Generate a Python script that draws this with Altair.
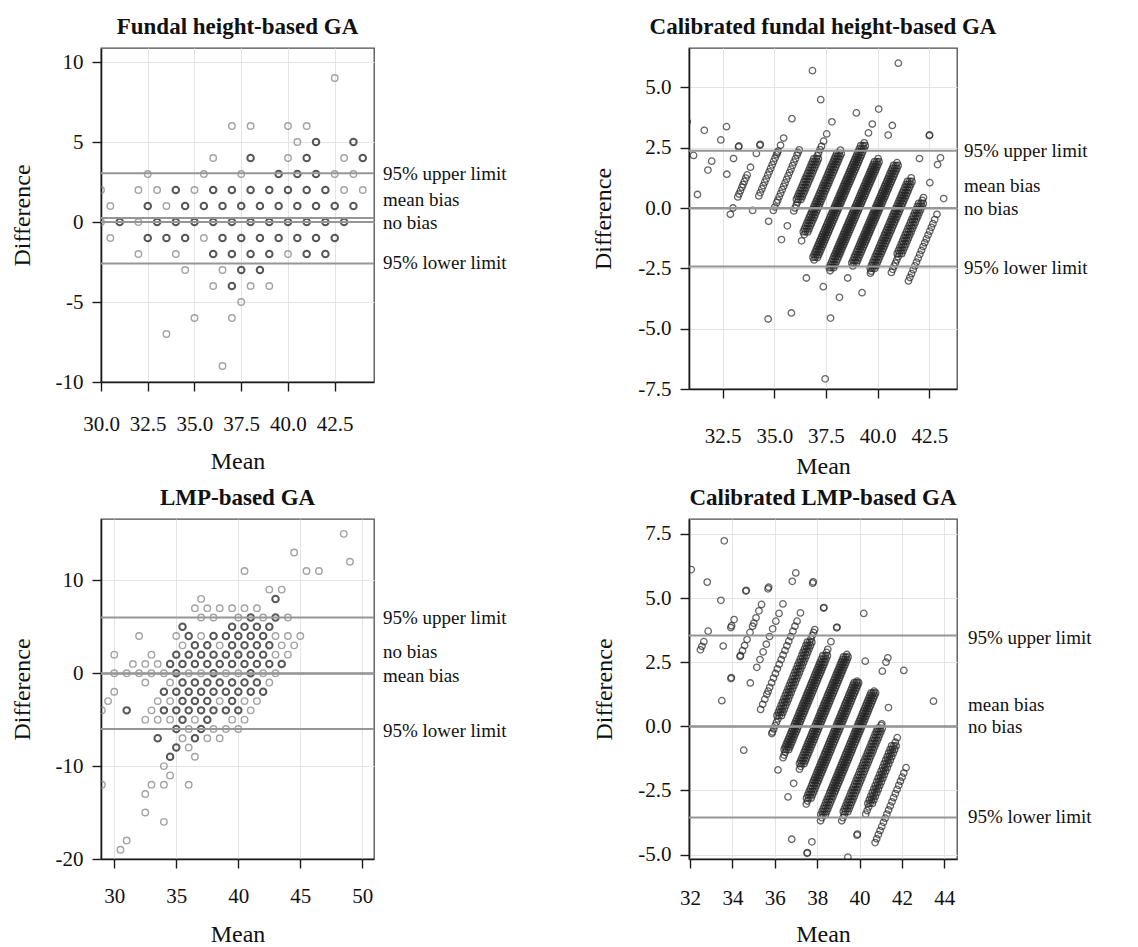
import altair as alt
import pandas as pd

FONT = "Liberation Serif"
MINUS = "replace(datum.label, '\u2212', '-')"

# ---------------- Panel 1: Fundal height-based GA  (difference -> list of means)
fh_single = {
    9: [42.5],
    6: [37, 38, 40, 41],
    5: [40.5],
    4: [36, 40, 43],
    3: [32.5, 35.5, 37.5, 42.5, 43.5],
    2: [30, 32, 33, 35, 43, 44],
    1: [30.5, 33.5],
    0: [30, 32],
    -1: [30.5, 35.5],
    -2: [32, 34, 40],
    -3: [34.5, 36.5],
    -4: [36, 38, 39],
    -5: [37.5],
    -6: [35, 37],
    -7: [33.5],
    -9: [36.5],
}
fh_multi = {
    5: [41.5, 43.5],
    4: [38, 41, 44],
    3: [39.5, 40.5, 41.5],
    2: [34, 36, 37, 38, 39, 40, 41, 42],
    1: [32.5, 34.5, 35.5, 36.5, 37.5, 38.5, 39.5, 40.5, 41.5, 42.5, 43.5],
    0: [31, 33, 34, 35, 36, 37, 38, 39, 40, 41, 42, 43],
    -1: [32.5, 33.5, 34.5, 36.5, 37.5, 38.5, 39.5, 40.5, 41.5, 42.5],
    -2: [36, 37, 38, 39, 41, 42],
    -3: [37.5, 38.5],
    -4: [37],
}
fh_lines = [3.05, 0.25, 0.0, -2.6]
fh_labels = ["95% upper limit", "mean bias", "no bias", "95% lower limit"]
fh_label_y = [2.98, 1.38, -0.04, -2.58]

# ---------------- Panel 3: LMP-based GA  (difference -> list of means)
lmp_single = {
    15: [48.5], 13: [44.5], 12: [49], 11: [40.5, 45.5, 46.5], 9: [42.5, 43.5], 8: [37],
    7: [36.5, 37.5, 38.5, 39.5, 40.5, 41.5],
    6: [37, 38, 40, 42, 44],
    4: [32, 35, 37, 43, 44, 45],
    3: [35.5, 38.5, 43.5, 44.5],
    2: [30, 33, 43, 44],
    1: [31.5, 32.5, 33.5],
    0: [30, 31, 32, 33, 34, 36, 37, 39, 40, 42, 43],
    -1: [32.5, 34.5, 42.5],
    -2: [30],
    -3: [29.5, 33.5, 34.5, 38.5, 40.5, 41.5],
    -4: [29, 33, 41],
    -5: [32.5, 33.5, 34.5, 36.5, 39.5, 40.5],
    -6: [36, 38, 39, 40],
    -7: [35.5, 37.5, 38.5],
    -8: [36], -9: [36.5], -10: [34], -11: [34.5], -12: [29, 33, 34, 36],
    -13: [32.5], -15: [32.5], -16: [34], -18: [31], -19: [30.5],
}
lmp_multi = {
    8: [43], 6: [41, 43], 5: [35.5, 39.5, 40.5, 41.5, 42.5],
    4: [36, 38, 39, 40, 41, 42],
    3: [36.5, 37.5, 39.5, 40.5, 41.5, 42.5],
    2: [35, 36, 37, 38, 39, 40, 41, 42],
    1: [34.5, 35.5, 36.5, 37.5, 38.5, 39.5, 40.5, 41.5, 42.5, 43.5],
    0: [35, 38, 41],
    -1: [35.5, 36.5, 37.5, 38.5, 39.5, 40.5, 41.5],
    -2: [34, 35, 36, 37, 38, 39, 40, 41, 42],
    -3: [35.5, 36.5, 37.5, 39.5],
    -4: [31, 34, 35, 36, 37, 38, 39, 40],
    -5: [35.5, 37.5],
    -6: [35, 37],
    -7: [33.5, 36.5],
    -8: [35], -9: [34.5],
}
lmp_lines = [6.0, -0.05, 0.0, -6.0]
lmp_labels = ["95% upper limit", "no bias", "mean bias", "95% lower limit"]
lmp_label_y = [5.96, 2.26, -0.25, -6.18]

# ---------------- Panel 2: Calibrated fundal height-based GA
# reference GA (whole weeks) -> list of differences (calibrated - reference)
cfh_bands = {
    29: [3.57],
    30: [2.18, 3.22],
    31: [0.56, 1.57, 1.94, 2.82, 3.37],
    32: [1.40, 2.05, 2.53, 2.57],
    33: [-0.26, 0.0, 0.46, 0.58, 0.72, 0.86, 0.97, 1.1, 1.24, 1.37, 1.69, 2.26, 2.6, 2.64],
    34: [-0.1, 0.5, 0.64, 0.79, 0.93, 1.07, 1.21, 1.36, 1.5, 1.64, 1.79, 1.93, 2.07, 2.21,
         2.29, 2.36, 2.6, 2.9, 3.7, 5.69],
    35: [-0.55, -0.1, 0.04, 0.22, 0.33, 0.47, 0.61, 0.76, 0.9, 1.04, 1.19, 1.33, 1.47, 1.61,
         1.76, 1.9, 2.04, 2.19, 2.3, 2.41, 4.49],
    36: [-1.31, -0.74, -0.12, 0.0, 0.12, 0.24, 0.36, 0.48, 0.6, 0.72, 0.84, 0.96, 1.08, 1.2,
         1.32, 1.44, 1.56, 1.68, 1.8, 1.92, 2.04, 2.16, 2.28, 2.42, 2.56, 2.77, 3.07, 3.57],
    37: [-4.6, -1.36, -1.1, -0.98, -0.86, -0.74, -0.62, -0.5, -0.39, -0.28, -0.17, -0.06,
         0.05, 0.16, 0.27, 0.38, 0.49, 0.6, 0.71, 0.82, 0.93, 1.04, 1.15, 1.26, 1.37, 1.48,
         1.59, 1.7, 1.81, 1.92, 2.03, 2.14, 2.26, 2.4, 3.94],
    38: [-4.35, -2.9, -2.15, -2.04, -1.93, -1.82, -1.71, -1.6, -1.5, -1.4, -1.3, -1.2, -1.1,
         -1.0, -0.9, -0.8, -0.7, -0.6, -0.5, -0.4, -0.3, -0.2, -0.1, 0.0, 0.1, 0.2, 0.3, 0.4,
         0.5, 0.6, 0.7, 0.8, 0.9, 1.0, 1.1, 1.2, 1.3, 1.4, 1.5, 1.6, 1.7, 1.8, 1.9, 2.0, 2.1,
         2.2, 2.32, 2.45, 2.58, 2.7, 3.11, 3.48, 4.1, 6.0],
    39: [-3.26, -2.6, -2.47, -2.35, -2.23, -2.11, -2.0, -1.9, -1.8, -1.7, -1.6, -1.5, -1.4,
         -1.3, -1.2, -1.1, -1.0, -0.9, -0.8, -0.7, -0.6, -0.5, -0.4, -0.3, -0.2, -0.1, 0.0,
         0.1, 0.2, 0.3, 0.4, 0.5, 0.6, 0.7, 0.8, 0.9, 1.0, 1.1, 1.2, 1.3, 1.4, 1.5, 1.6, 1.7,
         1.8, 1.92, 2.05, 3.02, 3.42],
    40: [-4.56, -3.7, -2.9, -2.4, -2.28, -2.16, -2.04, -1.93, -1.82, -1.71, -1.6, -1.5, -1.4,
         -1.3, -1.2, -1.1, -1.0, -0.9, -0.8, -0.7, -0.6, -0.5, -0.4, -0.3, -0.2, -0.1, 0.0,
         0.1, 0.2, 0.3, 0.4, 0.5, 0.6, 0.7, 0.8, 0.9, 1.0, 1.1, 1.2, 1.31, 1.42, 1.53, 1.64,
         1.76, 1.88],
    41: [-7.08, -3.51, -2.7, -2.62, -2.5, -2.38, -2.26, -2.14, -2.02, -1.9, -1.79, -1.68,
         -1.57, -1.46, -1.35, -1.24, -1.13, -1.02, -0.91, -0.8, -0.69, -0.58, -0.47, -0.36,
         -0.25, -0.14, -0.03, 0.08, 0.19, 0.3, 0.41, 0.52, 0.63, 0.74, 0.86, 0.98, 1.1, 1.25,
         2.05, 3.0, 3.03],
    42: [-2.67, -2.54, -2.41, -2.28, -2.15, -2.02, -1.89, -1.76, -1.63, -1.5, -1.37, -1.24,
         -1.11, -0.98, -0.85, -0.72, -0.59, -0.46, -0.33, -0.2, -0.07, 0.06, 0.19, 0.32, 0.43,
         1.05, 1.8, 2.08],
    43: [-3.02, -2.88, -2.72, -2.56, -2.4, -2.24, -2.08, -1.92, -1.76, -1.6, -1.44, -1.28,
         -1.12, -0.96, -0.8, -0.65, -0.48, -0.26, 0.39],
}
# difference range in which each reference week is densely packed (solid band)
cfh_dense = {36: (0.3, 2.1), 37: (-1.0, 2.3), 38: (-2.05, 2.6), 39: (-2.5, 2.0),
             40: (-2.3, 1.8), 41: (-2.55, 1.2), 42: (-2.0, 0.2)}
cfh_lines = [2.37, -0.02, 0.0, -2.42]
cfh_labels = ["95% upper limit", "mean bias", "no bias", "95% lower limit"]
cfh_label_y = [2.37, 0.91, -0.06, -2.47]

# ---------------- Panel 4: Calibrated LMP-based GA
clmp_bands = {
    29: [6.11],
    30: [5.62, 7.23],
    31: [2.98, 3.12, 3.3, 3.71, 4.91],
    32: [3.13, 3.85, 3.92, 4.16, 5.27, 5.3],
    33: [1.0, 1.86, 1.9, 2.72, 2.76, 2.95, 3.15, 3.38, 3.66, 3.9, 4.02, 4.23, 4.5, 4.75,
         5.36, 5.42],
    34: [1.69, 2.3, 2.6, 2.9, 3.2, 3.5, 3.8, 4.1, 4.4, 4.77, 5.65, 5.98],
    35: [-0.93, 0.66, 0.86, 1.06, 1.25, 1.37, 1.52, 1.7, 1.88, 2.06, 2.24, 2.42, 2.6, 2.78,
         2.96, 3.14, 3.32, 3.5, 3.71, 3.9, 4.1, 4.42, 5.58, 5.63],
    36: [-0.28, -0.22, -0.1, 0.03, 0.16, 0.29, 0.42, 0.55, 0.68, 0.81, 0.94, 1.07, 1.2, 1.33,
         1.46, 1.59, 1.72, 1.85, 1.98, 2.11, 2.24, 2.37, 2.5, 2.63, 2.76, 2.89, 3.02, 3.15,
         3.28, 3.41, 3.54, 3.66, 3.77, 4.61, 4.63],
    37: [-1.7, -1.22, -1.12, -1.01, -0.9, -0.8, -0.7, -0.6, -0.5, -0.4, -0.3, -0.2, -0.1, 0.0,
         0.1, 0.2, 0.3, 0.4, 0.5, 0.6, 0.7, 0.8, 0.9, 1.0, 1.1, 1.2, 1.3, 1.4, 1.5, 1.6, 1.7,
         1.8, 1.9, 2.0, 2.1, 2.2, 2.3, 2.4, 2.5, 2.62, 2.75, 2.88, 3.0, 3.3, 3.84, 3.87],
    38: [-2.75, -2.22, -1.67, -1.56, -1.45, -1.34, -1.23, -1.12, -1.01, -0.9, -0.8, -0.7,
         -0.6, -0.5, -0.4, -0.3, -0.2, -0.1, 0.0, 0.1, 0.2, 0.3, 0.4, 0.5, 0.6, 0.7, 0.8, 0.9,
         1.0, 1.1, 1.2, 1.3, 1.4, 1.5, 1.6, 1.7, 1.8, 1.9, 2.0, 2.1, 2.2, 2.3, 2.4, 2.5, 2.6,
         2.7, 2.8, 4.4],
    39: [-4.4, -3.03, -2.91, -2.79, -2.67, -2.55, -2.43, -2.31, -2.2, -2.1, -2.0, -1.9, -1.8,
         -1.7, -1.6, -1.5, -1.4, -1.3, -1.2, -1.1, -1.0, -0.9, -0.8, -0.7, -0.6, -0.5, -0.4,
         -0.3, -0.2, -0.1, 0.0, 0.1, 0.2, 0.3, 0.4, 0.5, 0.6, 0.7, 0.8, 0.9, 1.0, 1.1, 1.2,
         1.3, 1.4, 1.5, 1.6, 1.7, 1.76, 2.54],
    40: [-4.95, -4.92, -4.5, -3.68, -3.56, -3.44, -3.32, -3.2, -3.08, -2.96, -2.84, -2.72,
         -2.6, -2.5, -2.4, -2.3, -2.2, -2.1, -2.0, -1.9, -1.8, -1.7, -1.6, -1.5, -1.4, -1.3,
         -1.2, -1.1, -1.0, -0.9, -0.8, -0.7, -0.6, -0.5, -0.4, -0.3, -0.2, -0.1, 0.0, 0.1, 0.2,
         0.3, 0.4, 0.5, 0.6, 0.7, 0.8, 0.9, 1.0, 1.1, 1.2, 1.3, 1.37, 2.15, 2.5, 2.67],
    41: [-3.68, -3.56, -3.44, -3.32, -3.2, -3.08, -2.96, -2.84, -2.72, -2.6, -2.48, -2.36,
         -2.24, -2.12, -2.0, -1.88, -1.76, -1.64, -1.52, -1.4, -1.28, -1.16, -1.04, -0.92,
         -0.8, -0.68, -0.56, -0.44, -0.32, -0.2, -0.08, 0.04, 0.1, 0.73, 2.18],
    42: [-5.1, -4.24, -4.2, -3.42, -3.28, -3.14, -3.0, -2.86, -2.72, -2.58, -2.44, -2.3, -2.16,
         -2.02, -1.88, -1.74, -1.6, -1.46, -1.32, -1.18, -1.04, -0.9, -0.76, -0.62, -0.44],
    43: [-4.53, -4.38, -4.22, -4.06, -3.9, -3.74, -3.58, -3.42, -3.26, -3.1, -2.94, -2.78,
         -2.62, -2.46, -2.3, -2.14, -1.98, -1.82, -1.61, 0.98],
}
clmp_dense = {36: (0.4, 3.3), 37: (-1.0, 2.8), 38: (-1.5, 2.7), 39: (-2.8, 1.7),
              40: (-3.5, 1.3), 41: (-3.4, 0.0), 42: (-3.0, -0.7)}
clmp_lines = [3.54, -0.02, 0.0, -3.55]
clmp_labels = ["95% upper limit", "mean bias", "no bias", "95% lower limit"]
clmp_label_y = [3.43, 0.85, -0.03, -3.53]


def grid_points(d):
    rows = []
    for diff, means in d.items():
        for m in means:
            rows.append({"mean": m, "diff": diff})
    return pd.DataFrame(rows)


def band_points(bands, dense=None):
    # Bland-Altman: mean of (reference, calibrated) vs. difference (calibrated - reference)
    rows = []
    for ref, diffs in bands.items():
        for d in diffs:
            other = ref + d
            if dense is not None:
                if ref not in dense or not (dense[ref][0] <= d <= dense[ref][1]):
                    continue
            rows.append({"mean": (ref + other) / 2.0, "diff": other - ref})
    return pd.DataFrame(rows)


def panel(layers_data, title, xdom, ydom, xvals, yvals, xfmt, yfmt, lines, lab_text, lab_y,
          w, h, lab_x, ytx, xpad, xty):
    xs = alt.Scale(domain=xdom, nice=False, zero=False)
    ys = alt.Scale(domain=ydom, nice=False, zero=False)
    xax = alt.Axis(title="Mean", values=xvals, format=xfmt, labelExpr=MINUS, grid=True,
                   labelOverlap=False, labelFlush=False, labelPadding=xpad, titleX=w / 2,
                   titleY=xty, titleBaseline="middle", titleAlign="center")
    yax = alt.Axis(title="Difference", values=yvals, format=yfmt, labelExpr=MINUS, grid=True,
                   labelOverlap=False, labelFlush=False, labelPadding=9, titleX=ytx,
                   titleY=h / 2, titleBaseline="middle", titleAlign="center", titleAngle=270)
    layers = []
    for df, color, sw, size, off in layers_data:
        enc = dict(x=alt.X("mean:Q", scale=xs, axis=xax),
                   y=alt.Y("diff:Q", scale=ys, axis=yax))
        if off:
            enc["xOffset"] = alt.value(off)
        layers.append(
            alt.Chart(df).mark_point(shape="circle", filled=False, color=color,
                                     strokeWidth=sw, size=size, clip=True).encode(**enc)
        )
    rules = alt.Chart(pd.DataFrame({"diff": lines})).mark_rule(
        color="#969696", strokeWidth=2).encode(y=alt.Y("diff:Q", scale=ys, axis=yax))
    text = alt.Chart(pd.DataFrame({"diff": lab_y, "label": lab_text})).mark_text(
        align="left", baseline="middle", font=FONT, fontSize=19, color="#111"
    ).encode(x=alt.value(lab_x), y=alt.Y("diff:Q", scale=ys, axis=yax), text="label:N")
    return alt.layer(*layers, rules, text).properties(
        width=w, height=h,
        title=alt.Title(title, font=FONT, fontSize=23, fontWeight="bold", color="#111",
                        anchor="middle", frame="group", offset=9),
    )


BAND = "#262626"

p1 = panel(
    [(grid_points(fh_single), "#7d7d7d", 1.4, 42, 0),
     (grid_points(fh_multi), "#111111", 2.0, 42, 0)],
    "Fundal height-based GA", [30, 44.6], [-10, 10.875],
    [30, 32.5, 35, 37.5, 40, 42.5], [-10, -5, 0, 5, 10], ".1f", "d",
    fh_lines, fh_labels, fh_label_y, 273, 334, 282, -79, 22, 79)

cfh_core = band_points(cfh_bands, cfh_dense)
p2 = panel(
    [(band_points(cfh_bands), BAND, 1.3, 42, 0),
     (cfh_core, BAND, 1.4, 42, -2.2), (cfh_core, BAND, 1.4, 42, 2.2)],
    "Calibrated fundal height-based GA", [30.87, 43.84], [-7.5, 6.63],
    [32.5, 35, 37.5, 40, 42.5], [-7.5, -5, -2.5, 0, 2.5, 5], ".1f", ".1f",
    cfh_lines, cfh_labels, cfh_label_y, 268, 341, 275, -86, 27, 77)

p3 = panel(
    [(grid_points(lmp_single), "#7d7d7d", 1.4, 42, 0),
     (grid_points(lmp_multi), "#111111", 2.0, 42, 0)],
    "LMP-based GA", [28.93, 50.94], [-20, 16.6],
    [30, 35, 40, 45, 50], [-20, -10, 0, 10], "d", "d",
    lmp_lines, lmp_labels, lmp_label_y, 273, 340, 282, -79, 17, 75)

clmp_core = band_points(clmp_bands, clmp_dense)
p4 = panel(
    [(band_points(clmp_bands), BAND, 1.3, 42, 0),
     (clmp_core, BAND, 1.4, 42, -2.2), (clmp_core, BAND, 1.4, 42, 2.2)],
    "Calibrated LMP-based GA", [31.95, 44.6], [-5.17, 8.08],
    [32, 34, 36, 38, 40, 42, 44], [-5, -2.5, 0, 2.5, 5, 7.5], "d", ".1f",
    clmp_lines, clmp_labels, clmp_label_y, 268, 340, 279, -85, 19, 75)

chart = alt.concat(
    p1, p2, p3, p4, columns=2, spacing={"row": 130, "column": 315}, bounds="flush"
).properties(
    padding={"left": 1, "top": 7, "right": 5, "bottom": 5}
).configure_view(
    stroke="#4d4d4d", strokeWidth=1.3
).configure_axis(
    labelFont=FONT, labelFontSize=21, labelColor="#111",
    titleFont=FONT, titleFontSize=24, titleFontWeight="normal", titleColor="#111",
    domainColor="#1a1a1a", domainWidth=1.6, tickColor="#1a1a1a", tickSize=9, tickWidth=1.4,
    gridColor="#e4e4e4", gridWidth=1,
)

chart.save("out.html", embed_options={"renderer": "svg", "actions": False})
